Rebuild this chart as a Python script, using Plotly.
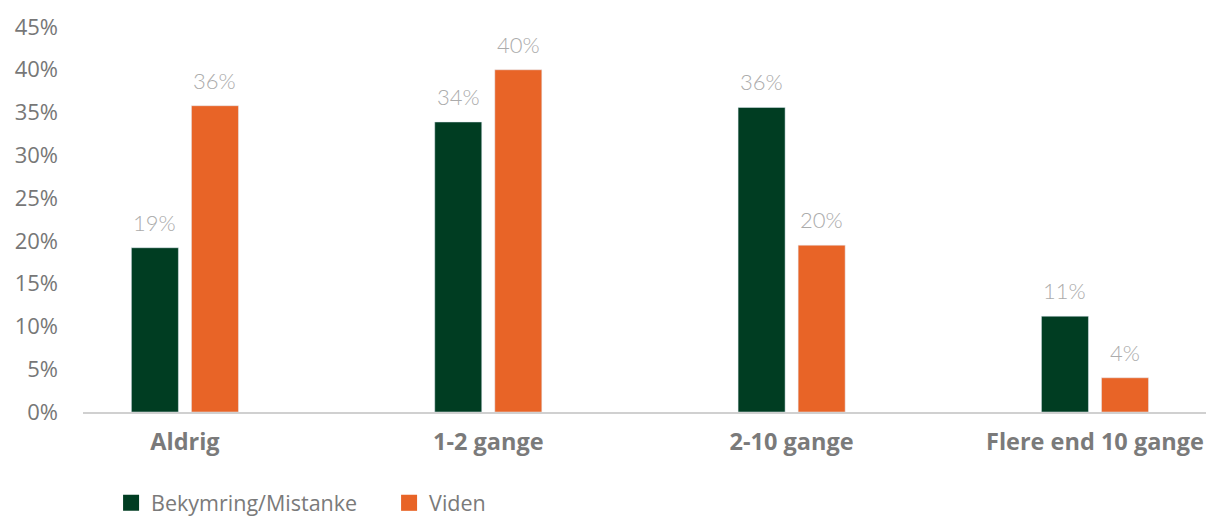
import plotly.graph_objects as go

categories = ["Aldrig", "1-2 gange", "2-10 gange", "Flere end 10 gange"]
bekymring = [19.2, 33.9, 35.6, 11.2]
viden = [35.8, 40.0, 19.5, 4.0]
bekymring_labels = ["19%", "34%", "36%", "11%"]
viden_labels = ["36%", "40%", "20%", "4%"]
series_names = ["Bekymring/Mistanke", "Viden"]
y_ticks = [0, 5, 10, 15, 20, 25, 30, 35, 40, 45]
y_tick_labels = [f"{v}%" for v in y_ticks]

GREEN = "#003d22"
ORANGE = "#e86427"
label_font = dict(family="Lato", size=22, color="#ababab", weight=300)

fig = go.Figure()
fig.add_trace(go.Bar(name=series_names[0], x=categories, y=bekymring,
                     marker_color=GREEN, showlegend=False))
fig.add_trace(go.Bar(name=series_names[1], x=categories, y=viden,
                     marker_color=ORANGE, showlegend=False))

# legend entries with square swatches
for name, color in zip(series_names, (GREEN, ORANGE)):
    fig.add_trace(go.Scatter(name=name, x=[None], y=[None], mode="markers",
                             marker=dict(symbol="square", size=18, color=color),
                             showlegend=True))

for series, labels, shift in ((bekymring, bekymring_labels, -30),
                              (viden, viden_labels, 30)):
    for cat, val, lab in zip(categories, series, labels):
        fig.add_annotation(x=cat, y=val, text=lab, showarrow=False,
                           xshift=shift, yshift=10, yanchor="bottom",
                           font=label_font)

fig.update_layout(
    width=1206, height=516,
    margin=dict(l=83, r=0, t=27, b=104, autoexpand=False),
    paper_bgcolor="white", plot_bgcolor="white",
    barmode="group", bargap=0.604, bargroupgap=0.217,
    font=dict(family="Open Sans", color="#777777"),
    showlegend=True,
    legend=dict(
        orientation="h", x=0.025, xanchor="left", y=-0.236, yanchor="middle",
        font=dict(family="Open Sans", size=21.5, color="#7a7a7a"),
        entrywidth=233, entrywidthmode="pixels", tracegroupgap=0,
        itemwidth=30,
    ),
)
fig.update_xaxes(
    type="category", range=[-0.336, 3.366], automargin=False,
    showline=True, linecolor="#d0d0d0", linewidth=1.5,
    showgrid=False, zeroline=False, ticks="",
    tickfont=dict(family="Open Sans", size=23.5, color="#7a7a7a", weight="bold"),
    ticklabelstandoff=8,
)
fig.update_yaxes(
    range=[0, 45], tickvals=y_ticks, ticktext=y_tick_labels, automargin=False,
    showgrid=False, zeroline=False, showline=False, ticks="",
    tickfont=dict(family="Open Sans", size=22, color="#777777"),
    ticklabelstandoff=24,
)

fig.write_html("out.html",
               config={"displayModeBar": False},
               post_script="document.body.style.margin='0';")
